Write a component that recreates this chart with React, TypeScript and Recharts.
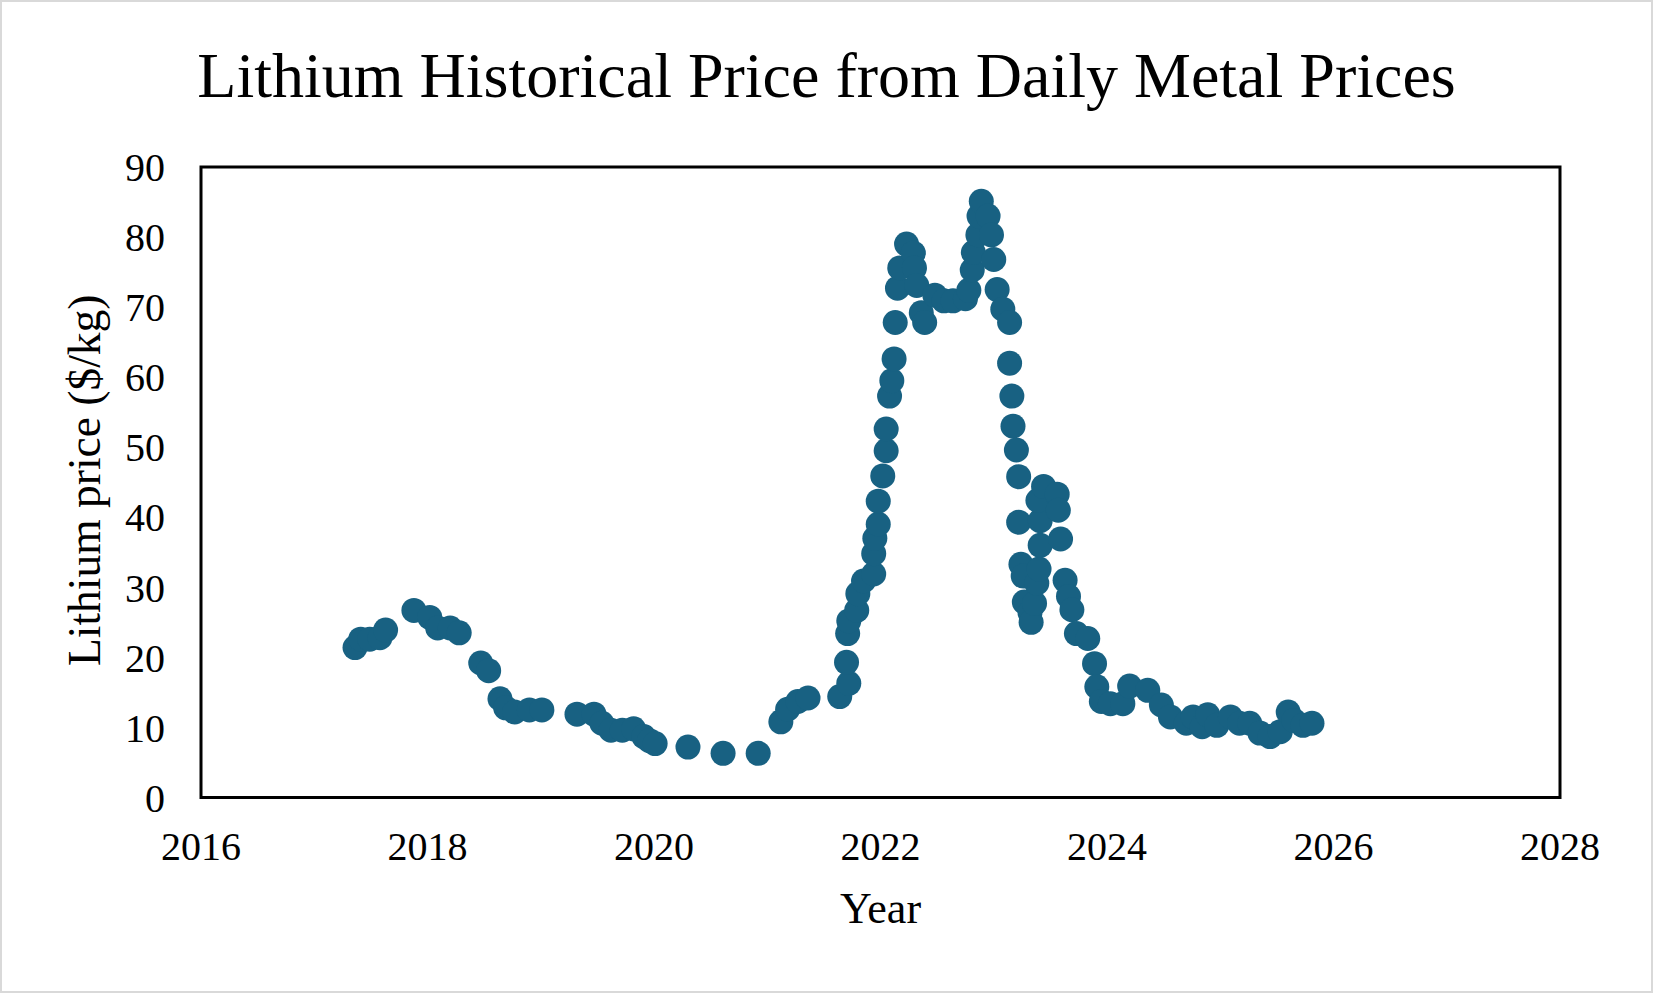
import { ScatterChart, Scatter, XAxis, YAxis, ReferenceArea } from 'recharts';

const years = [
  2017.36, 2017.41, 2017.49, 2017.58, 2017.63, 2017.88, 2018.02, 2018.09, 2018.2, 2018.28,
  2018.47, 2018.54, 2018.64, 2018.69, 2018.77, 2018.9, 2019.01, 2019.32, 2019.47, 2019.54,
  2019.62, 2019.72, 2019.82, 2019.91, 2019.96, 2020.01, 2020.3, 2020.61, 2020.92, 2021.12,
  2021.18, 2021.27, 2021.36, 2021.64, 2021.72, 2021.7, 2021.71, 2021.72, 2021.79, 2021.8,
  2021.85, 2021.94, 2021.94, 2021.95, 2021.98, 2021.98, 2022.02, 2022.05, 2022.05, 2022.08,
  2022.1, 2022.12, 2022.13, 2022.15, 2022.17, 2022.23, 2022.29, 2022.3, 2022.32, 2022.36,
  2022.39, 2022.48, 2022.56, 2022.64, 2022.75, 2022.78, 2022.81, 2022.82, 2022.86, 2022.87,
  2022.89, 2022.95, 2022.98, 2023.0, 2023.03, 2023.08, 2023.14, 2023.14, 2023.16, 2023.17,
  2023.2, 2023.22, 2023.22, 2023.24, 2023.26, 2023.27, 2023.32, 2023.33, 2023.36, 2023.38,
  2023.4, 2023.41, 2023.41, 2023.39, 2023.44, 2023.56, 2023.57, 2023.59, 2023.63, 2023.66,
  2023.69, 2023.73, 2023.83, 2023.89, 2023.91, 2023.95, 2024.03, 2024.14, 2024.2, 2024.36,
  2024.48, 2024.56, 2024.7, 2024.76, 2024.84, 2024.89, 2024.97, 2025.09, 2025.17, 2025.26,
  2025.35, 2025.44, 2025.53, 2025.6, 2025.65, 2025.73, 2025.81,
];

const prices = [
  21.4, 22.6, 22.6, 22.8, 23.9, 26.7, 25.7, 24.2, 24.2, 23.5,
  19.2, 18.1, 14.1, 12.8, 12.2, 12.5, 12.5, 11.9, 11.9, 10.6,
  9.6, 9.6, 9.8, 8.7, 8.1, 7.7, 7.2, 6.3, 6.3, 10.8,
  12.6, 13.7, 14.2, 14.4, 16.3, 19.3, 23.4, 25.2, 26.7, 29.1,
  30.9, 31.9, 34.8, 37.0, 39.0, 42.3, 45.9, 49.5, 52.6, 57.3,
  59.5, 62.6, 67.8, 72.7, 75.6, 79.0, 77.7, 75.6, 73.1, 69.2,
  67.8, 71.7, 70.9, 70.9, 71.2, 72.4, 75.3, 77.8, 80.3, 83.0,
  85.1, 83.0, 80.3, 76.8, 72.5, 69.7, 67.8, 62.0, 57.3, 53.0,
  49.6, 45.8, 39.3, 33.3, 31.6, 27.9, 26.4, 25.0, 27.7, 30.6,
  32.6, 36.0, 39.5, 42.4, 44.4, 43.3, 41.0, 36.9, 31.0, 28.7,
  26.8, 23.4, 22.7, 19.1, 15.8, 13.7, 13.4, 13.4, 15.9, 15.3,
  13.2, 11.5, 10.6, 11.5, 10.1, 11.8, 10.3, 11.5, 10.6, 10.6,
  9.2, 8.7, 9.4, 12.2, 11.0, 10.3, 10.6,
];

const xTicks = [2016, 2018, 2020, 2022, 2024, 2026, 2028];
const yTicks = [0, 10, 20, 30, 40, 50, 60, 70, 80, 90];

const data = years.map((year, i) => ({ year, price: prices[i] }));

const FONT = '"Liberation Serif", "Times New Roman", serif';
const DOT = '#186182';

const YTitle = (props: any) => {
  const vb = props.viewBox;
  const x = vb.x + 100;
  const y = vb.y + vb.height / 2 - 2;
  return (
    <text x={x} y={y} transform={`rotate(-90 ${x} ${y})`} textAnchor="middle" fontSize={45.5} fontFamily={FONT} fill="#000">
      Lithium price ($/kg)
    </text>
  );
};

const XTitle = (props: any) => {
  const vb = props.viewBox;
  return (
    <text x={vb.x + vb.width / 2} y={vb.y + 125} textAnchor="middle" fontSize={44} fontFamily={FONT} fill="#000">
      Year
    </text>
  );
};

export default function App() {
  return (
    <div style={{ position: 'absolute', left: 0, top: 0, width: 1653, height: 993, background: '#fff' }}>
      <div
        style={{
          position: 'absolute', inset: 0, border: '2px solid #d9d9d9', boxSizing: 'border-box', pointerEvents: 'none',
        }}
      />
      <div
        style={{
          position: 'absolute', left: 0, top: 44, width: 1653, textAlign: 'center',
          fontFamily: FONT, fontSize: 64, lineHeight: '64px', color: '#000',
        }}
      >
        Lithium Historical Price from Daily Metal Prices
      </div>
      <ScatterChart width={1653} height={993} margin={{ top: 167, right: 93, bottom: 0, left: 0 }}>
        <XAxis
          type="number"
          dataKey="year"
          domain={[2016, 2028]}
          ticks={xTicks}
          interval={0}
          height={195.5}
          axisLine={false}
          tickLine={false}
          tickSize={0}
          tickMargin={34}
          tick={{ fontSize: 40, fontFamily: FONT, fill: '#000' }}
          label={<XTitle />}
        />
        <YAxis
          type="number"
          dataKey="price"
          domain={[0, 90]}
          ticks={yTicks}
          interval={0}
          width={201}
          axisLine={false}
          tickLine={false}
          tickSize={0}
          tickMargin={36}
          tick={{ fontSize: 40, fontFamily: FONT, fill: '#000' }}
          label={<YTitle />}
        />
        <ReferenceArea x1={2016} x2={2028} y1={0} y2={90} fill="none" fillOpacity={0} stroke="#000" strokeWidth={3} strokeOpacity={1} />
        <Scatter
          data={data}
          isAnimationActive={false}
          shape={(p: any) => <circle cx={p.cx} cy={p.cy} r={12.5} fill={DOT} />}
        />
      </ScatterChart>
    </div>
  );
}
